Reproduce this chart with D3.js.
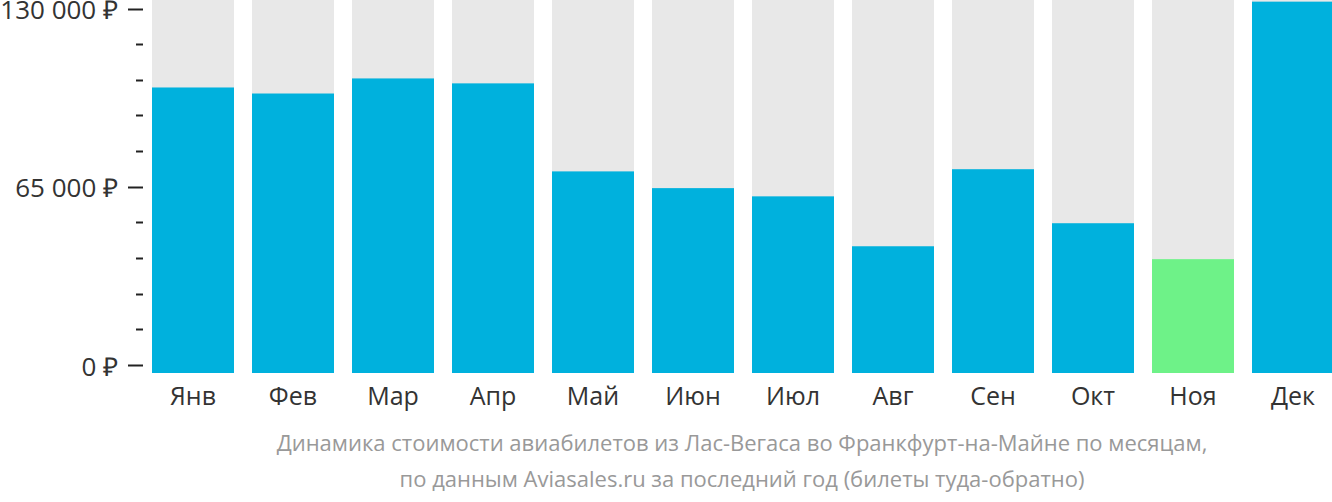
<!DOCTYPE html>
<head>
	<meta charset="utf-8">
	<script src="https://d3js.org/d3.v7.min.js"></script>
	<style>
		body { margin: 0; background: #fff; }
		text { font-family: "Open Sans", sans-serif; }
	</style>
</head>
<body>
	<div id="chart"></div>
	<script>

	// data
	var months = ["Янв", "Фев", "Мар", "Апр", "Май", "Июн", "Июл", "Авг", "Сен", "Окт", "Ноя", "Дек"];
	var prices = [101200, 99000, 104500, 102700, 70600, 64500, 61500, 43300, 71400, 51700, 38600, 132500];
	var cheapest = "Ноя";
	var yTicks = [0, 65000, 130000];
	var titleLines = [
		"Динамика стоимости авиабилетов из Лас-Вегаса во Франкфурт-на-Майне по месяцам,",
		"по данным Aviasales.ru за последний год (билеты туда-обратно)"
	];

	var width = 1332,
	height = 502;

	var svg = d3.select("#chart").append("svg")
	  .attr("width", width)
	  .attr("height", height);

	var x = d3.scaleBand()
		.domain(months)
		.range([152, 1334])
		.paddingInner(0.18)
		.paddingOuter(0);

	var y = d3.scaleLinear()
		.domain([0, 130000])
		.range([365, 8.5]);

	var barBottom = 373;

	// grey background columns
	svg.append("g")
		.selectAll("rect")
		.data(months)
		.join("rect")
		  .attr("x", d => x(d))
		  .attr("y", 0)
		  .attr("width", x.bandwidth())
		  .attr("height", barBottom)
		  .attr("fill", "#e8e8e8");

	// bars
	svg.append("g")
		.selectAll("rect")
		.data(prices)
		.join("rect")
		  .attr("x", (d, i) => x(months[i]))
		  .attr("y", d => y(d))
		  .attr("width", x.bandwidth())
		  .attr("height", d => barBottom - y(d))
		  .attr("fill", (d, i) => months[i] == cheapest ? "#6ef288" : "#00b1dd");

	// y axis ticks, small ones every 13 000
	var minor = d3.range(0, 130001, 13000);
	svg.append("g")
		.selectAll("line")
		.data(minor)
		.join("line")
		  .attr("x1", d => yTicks.includes(d) ? 128 : 136)
		  .attr("x2", 143)
		  .attr("y1", d => Math.round(y(d)) + 0.5)
		  .attr("y2", d => Math.round(y(d)) + 0.5)
		  .attr("stroke", "#222")
		  .attr("stroke-width", 2);

	svg.append("g")
		.selectAll("text")
		.data(yTicks)
		.join("text")
		  .attr("x", 118)
		  .attr("y", d => y(d) + 10.5)
		  .attr("text-anchor", "end")
		  .attr("font-size", 26)
		  .attr("fill", "#333")
		  .text(d => d3.format(",")(d).replace(/,/g, " ") + " ₽");

	// month labels
	svg.append("g")
		.selectAll("text")
		.data(months)
		.join("text")
		  .attr("x", d => x(d) + x.bandwidth() / 2)
		  .attr("y", 405)
		  .attr("text-anchor", "middle")
		  .attr("font-size", 25)
		  .attr("fill", "#333")
		  .text(d => d);

	// caption
	svg.append("g")
		.selectAll("text")
		.data(titleLines)
		.join("text")
		  .attr("x", 742)
		  .attr("y", (d, i) => 451 + i * 36)
		  .attr("text-anchor", "middle")
		  .attr("font-size", 22)
		  .attr("fill", "#999")
		  .text(d => d);
</script>
</body>
